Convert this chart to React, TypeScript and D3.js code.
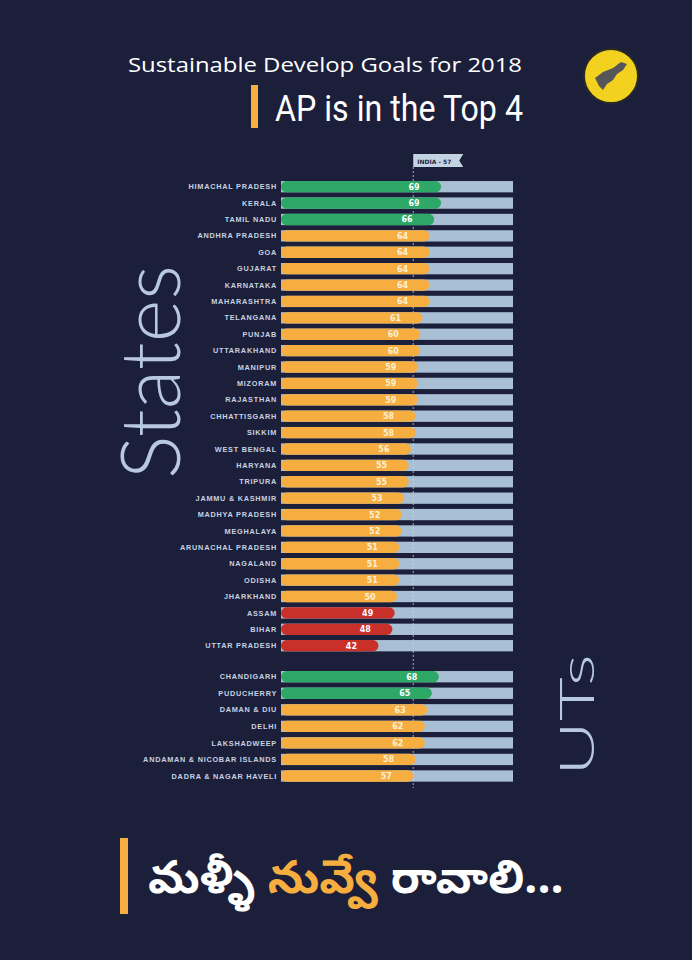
import React from "react";
import * as d3 from "d3";

const stateNames = [
  "HIMACHAL PRADESH", "KERALA", "TAMIL NADU", "ANDHRA PRADESH", "GOA", "GUJARAT",
  "KARNATAKA", "MAHARASHTRA", "TELANGANA", "PUNJAB", "UTTARAKHAND", "MANIPUR",
  "MIZORAM", "RAJASTHAN", "CHHATTISGARH", "SIKKIM", "WEST BENGAL", "HARYANA",
  "TRIPURA", "JAMMU & KASHMIR", "MADHYA PRADESH", "MEGHALAYA", "ARUNACHAL PRADESH",
  "NAGALAND", "ODISHA", "JHARKHAND", "ASSAM", "BIHAR", "UTTAR PRADESH",
];
const stateScores = [69, 69, 66, 64, 64, 64, 64, 64, 61, 60, 60, 59, 59, 59, 58, 58, 56, 55, 55, 53, 52, 52, 51, 51, 51, 50, 49, 48, 42];
const utNames = ["CHANDIGARH", "PUDUCHERRY", "DAMAN & DIU", "DELHI", "LAKSHADWEEP", "ANDAMAN & NICOBAR ISLANDS", "DADRA & NAGAR HAVELI"];
const utScores = [68, 65, 63, 62, 62, 58, 57];
const indiaScore = 57;
const scoreDomain = [0, 100];

const W = 692, H = 960;
const BG = "#1c1f3a";
const GREEN = "#2da866";
const ORANGE = "#f6ae40";
const RED = "#c9302a";
const TRACK = "#a9bfd3";
const LABEL = "#c9d1e0";
const BAR_H = 11.3;

const colorFor = (v: number) => (v >= 65 ? GREEN : v >= 50 ? ORANGE : RED);

export default function App() {
  const x = d3.scaleLinear().domain(scoreDomain).range([281, 513]);
  const yS = d3.scalePoint<string>().domain(stateNames).range([186.7, 645.7]);
  const yU = d3.scalePoint<string>().domain(utNames).range([676.7, 776]);

  const rows = [
    ...stateNames.map((n, i) => ({ name: n, v: stateScores[i], cy: yS(n)! })),
    ...utNames.map((n, i) => ({ name: n, v: utScores[i], cy: yU(n)! })),
  ];
  const xi = x(indiaScore);

  return (
    <svg width={W} height={H} style={{ position: "absolute", left: 0, top: 0 }} xmlns="http://www.w3.org/2000/svg">
      <rect x={0} y={0} width={W} height={H} fill={BG} />

      {/* Title */}
      <text x={128} y={72} fill="#ffffff" fontFamily="'Open Sans', sans-serif" fontSize={20} textLength={394} lengthAdjust="spacingAndGlyphs">
        Sustainable Develop Goals for 2018
      </text>
      <rect x={251} y={85} width={7} height={43} fill={ORANGE} />
      <text x={275} y={121} fill="#ffffff" fontFamily="Roboto, sans-serif" fontSize={37} textLength={248} lengthAdjust="spacingAndGlyphs">
        AP is in the Top 4
      </text>

      {/* Logo */}
      <g transform="translate(611,76)">
        <circle r={27} fill="#f2d21f" stroke="#2b2a25" strokeWidth={2} />
        <path d="M -16 2 L -8 -4 L 2 -8 L 10 -14 L 16 -12 L 12 -6 L 6 -2 L 2 4 L -4 8 L -8 14 L -12 10 L -14 6 Z" fill="#55565a" />
      </g>

      {/* Big side labels */}
      <text transform="translate(180,479) rotate(-90)" fill="#b7c8df" fontFamily="Lato, sans-serif" fontWeight={300} fontSize={82} textLength={214} lengthAdjust="spacingAndGlyphs">
        States
      </text>
      <text transform="translate(594,776) rotate(-90)" fill="#b7c8df" fontFamily="Lato, sans-serif" fontWeight={300} fontSize={48} textLength={122} lengthAdjust="spacingAndGlyphs">
        UTs
      </text>

      {/* tracks */}
      {rows.map((r) => (
        <rect key={"t" + r.name} x={x(0)} y={r.cy - BAR_H / 2} width={x(100) - x(0)} height={BAR_H} fill={TRACK} />
      ))}

      {/* India reference line */}
      <line x1={xi} x2={xi} y1={167} y2={788} stroke="#c9d1e0" strokeWidth={1} strokeDasharray="2,2" opacity={0.8} />
      <path d={`M ${xi} 154 H ${xi + 50} L ${xi + 46} 160.5 L ${xi + 50} 167 H ${xi} Z`} fill="#c4d3e3" />
      <text x={xi + 4} y={163.5} fill="#1c1f3a" fontFamily="'DejaVu Sans', sans-serif" fontWeight="bold" fontSize={6}>
        INDIA - {indiaScore}
      </text>

      {/* bars */}
      {rows.map((r) => (
        <g key={"b" + r.name}>
          <rect x={x(0)} y={r.cy - BAR_H / 2} width={x(r.v) - x(0)} height={BAR_H} rx={BAR_H / 2} fill={colorFor(r.v)} />
          <text x={x(r.v) - 27} y={r.cy + 3} textAnchor="middle" fill={colorFor(r.v) === ORANGE ? "#fdf0d4" : "#ffffff"} fontFamily="'DejaVu Sans', sans-serif" fontWeight="bold" fontSize={8}>
            {r.v}
          </text>
          <text x={277} y={r.cy + 2.6} textAnchor="end" fill={LABEL} fontFamily="'Liberation Sans', Arial, sans-serif" fontWeight="bold" fontSize={7.3} letterSpacing={0.75}>
            {r.name}
          </text>
        </g>
      ))}

      {/* Bottom slogan */}
      <rect x={120} y={838} width={8} height={76} fill={ORANGE} />
      <text x={148} y={893} fontFamily="'Noto Sans Telugu', 'Noto Serif Telugu', sans-serif" fontWeight="bold" fontSize={46}>
        <tspan fill="#ffffff">మళ్ళీ </tspan>
        <tspan fill={ORANGE}>నువ్వే </tspan>
        <tspan fill="#ffffff">రావాలి...</tspan>
      </text>
    </svg>
  );
}
